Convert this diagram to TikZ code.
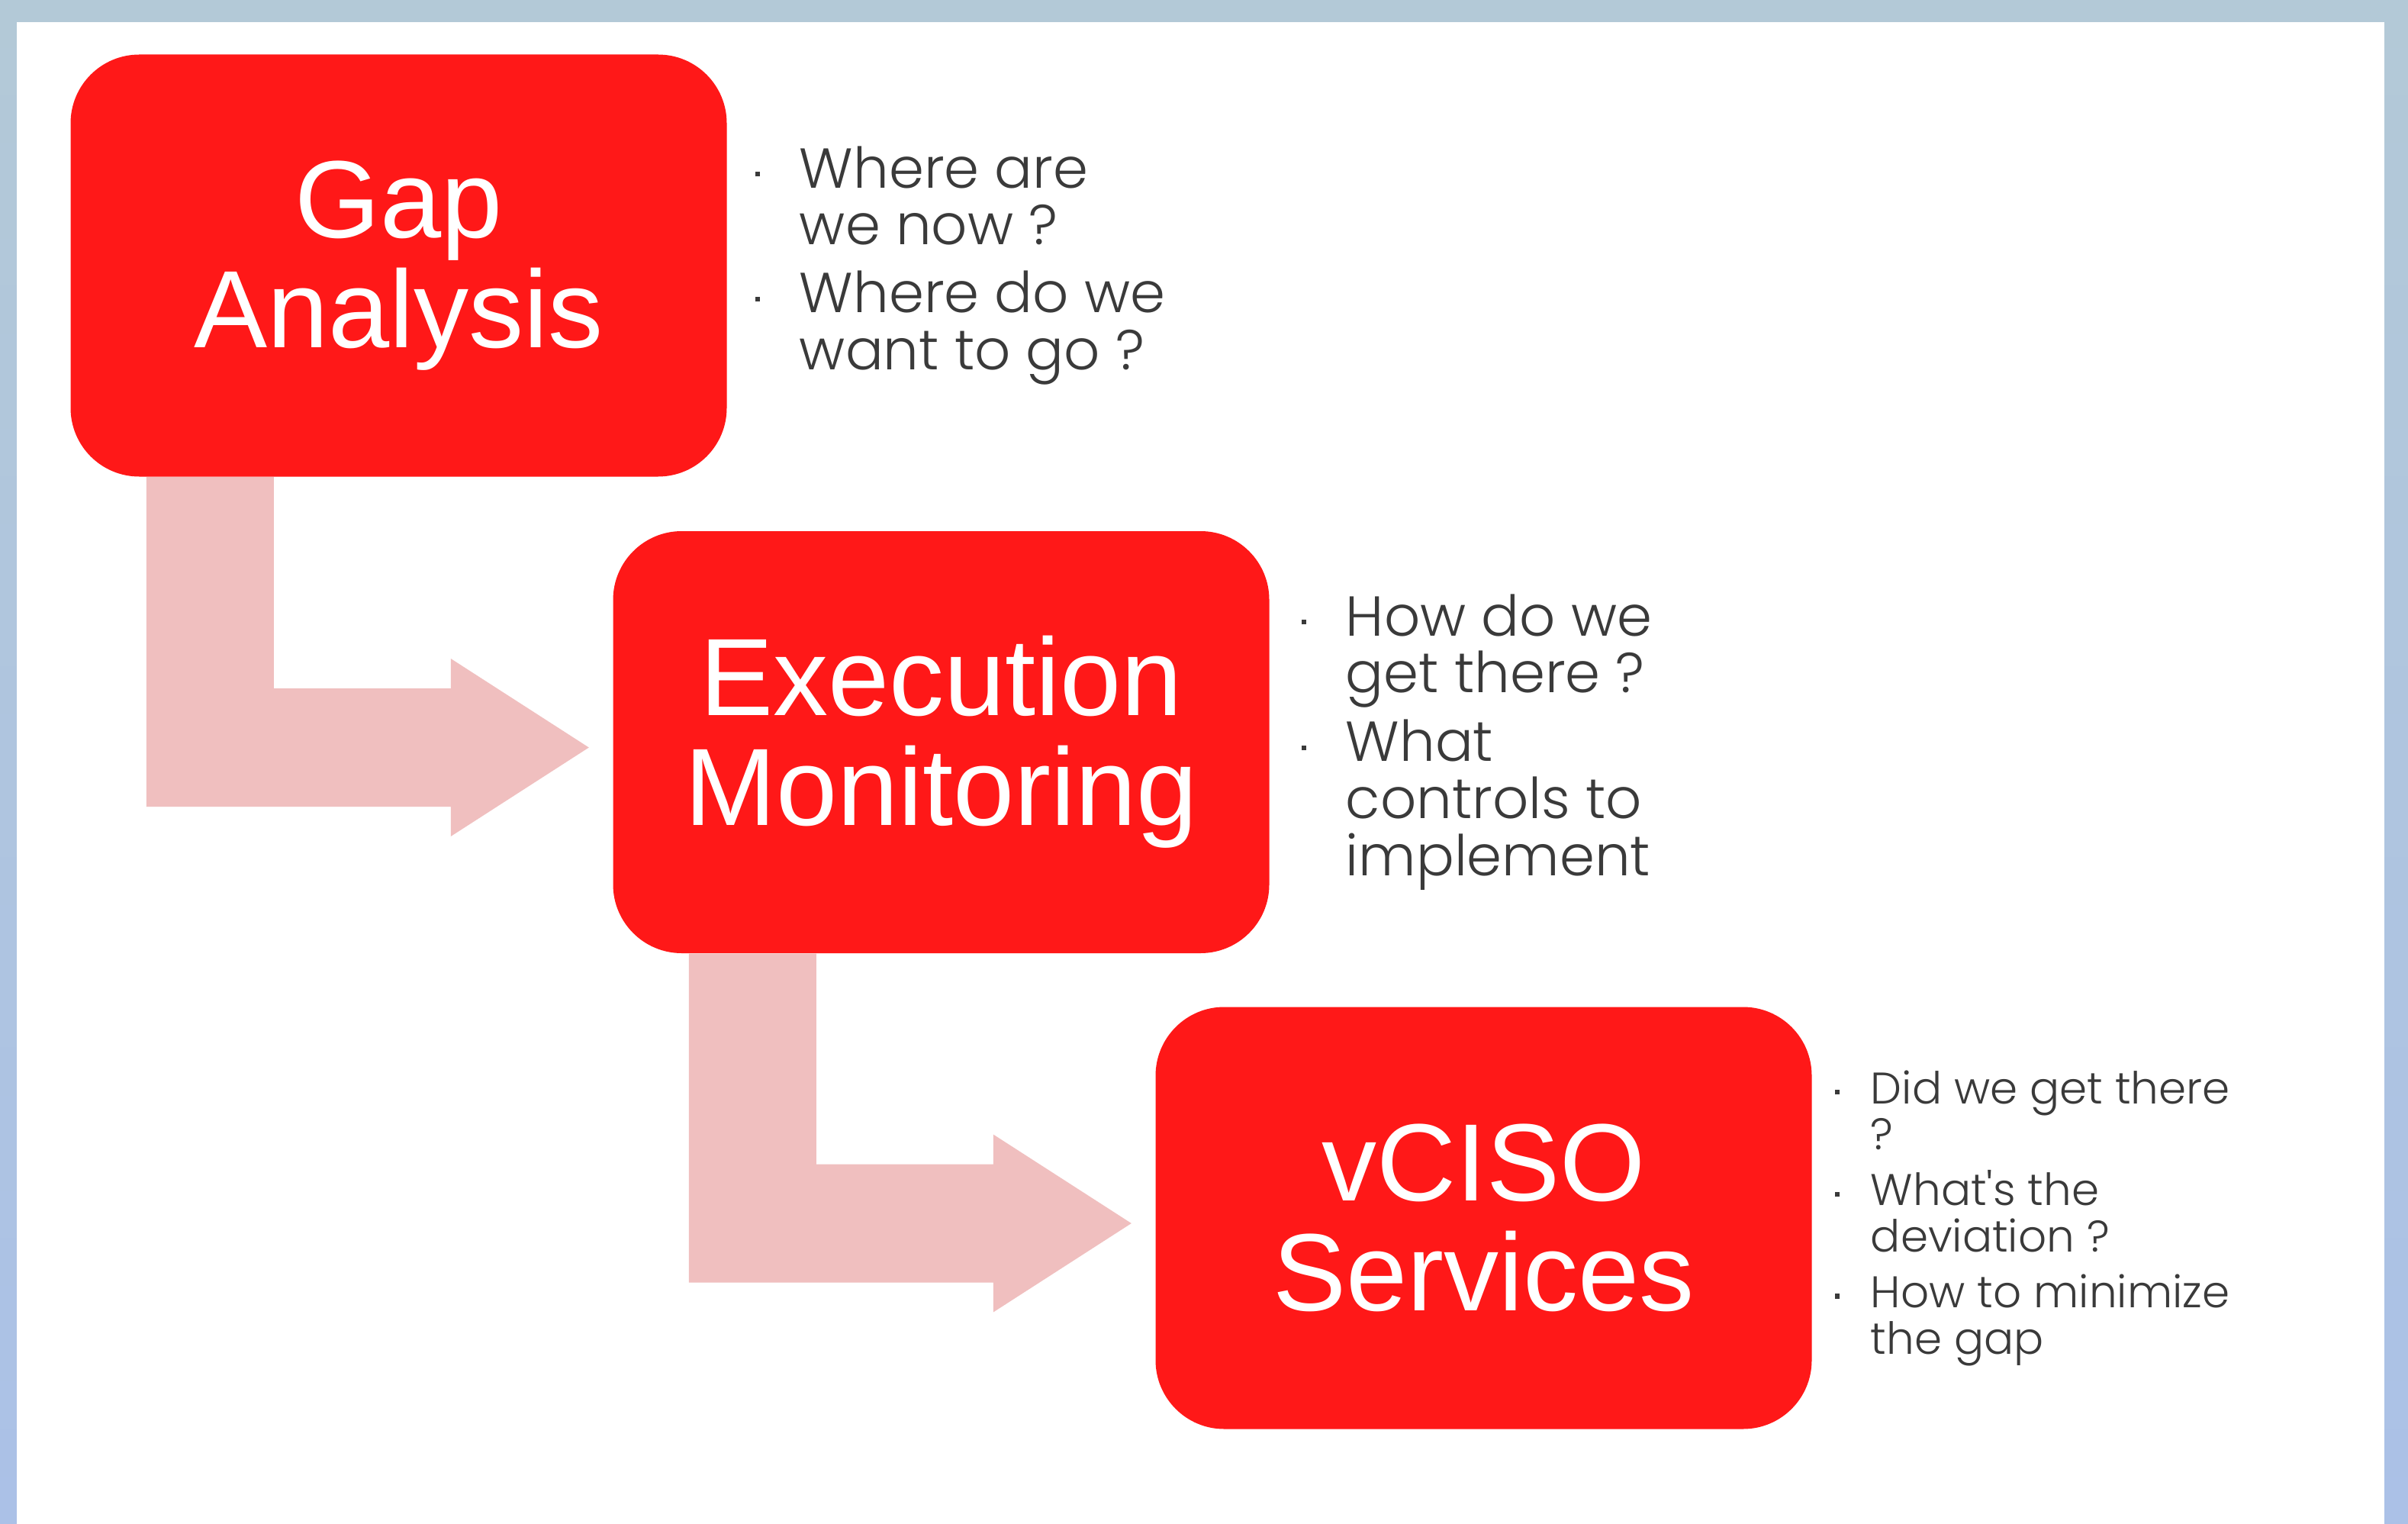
\documentclass[tikz,border=0pt]{standalone}
\usepackage{fontspec}
\setmainfont{Liberation Sans}
\newfontfamily\notefont{Poppins Light}
\usetikzlibrary{positioning,calc}

\definecolor{stagered}{HTML}{FF1818}
\definecolor{flowpink}{HTML}{F0BFBF}
\definecolor{notegray}{HTML}{3A3A3A}
\definecolor{frametop}{HTML}{B3C9D7}
\definecolor{framebottom}{HTML}{ABC1E7}

\newcommand{\bul}{\makebox[0pt][r]{\rule[0.2em]{1.8pt}{1.8pt}\hspace{0.7em}}}

\tikzset{
  stage/.style={rectangle,rounded corners=0.9cm,fill=stagered,text=white,
    minimum width=8.6cm,minimum height=5.53cm,align=center,inner sep=0pt,
    font=\fontsize{41}{41}\selectfont},
  notes/.style={anchor=west,align=left,inner sep=0pt,text=notegray,
    font=\notefont\fontsize{21}{21.3}\selectfont},
  smallnotes/.style={notes,font=\notefont\fontsize{16.5}{17.3}\selectfont},
  flow/.style={fill=flowpink}
}

\begin{document}
\begin{tikzpicture}
  \useasboundingbox (0,0) rectangle (31.56,19.96);
  % frame
  \shade[top color=frametop,bottom color=framebottom] (0,0) rectangle (31.56,19.96);
  \fill[white] (0.22,-0.1) rectangle (31.25,19.67);

  \path (5.225,16.48) node[stage](gap){Gap\\Analysis};
  \path (12.335,10.235) node[stage](exec){Execution\\Monitoring};
  \path (19.445,4.0) node[stage](vciso){vCISO\\Services};

  % bent arrows between the stages
  \foreach \a/\b in {gap/exec,exec/vciso}{
    \coordinate (c) at ($(\b.west)+(0,-0.07)$);
    \fill[flow] ($(\a.south west)+(1.0,0)$) coordinate (p) |- ($(c)+(-2.12,-0.775)$)
      -- ++(0,-0.39) -- ($(c)+(-0.31,0)$) -- ($(c)+(-2.12,1.165)$)
      -- ++(0,-0.39) -| ($(p)+(1.67,0)$) -- cycle;
  }

  \node[notes,right=0.94cm of gap] (gapnotes)
    {\bul Where are\\ we now ?\\[0.14cm]\bul Where do we\\ want to go ?};
  \node[notes,right=0.99cm of exec] (execnotes)
    {\bul How do we\\ get there ?\\[0.15cm]\bul What\\ controls to\\ implement};
  \node[smallnotes,right=0.76cm of vciso] (vcisonotes)
    {\bul Did we get there\\ ?\\[0.12cm]\bul What's the\\ deviation ?\\[0.12cm]\bul How to minimize\\ the gap};
\end{tikzpicture}
\end{document}
